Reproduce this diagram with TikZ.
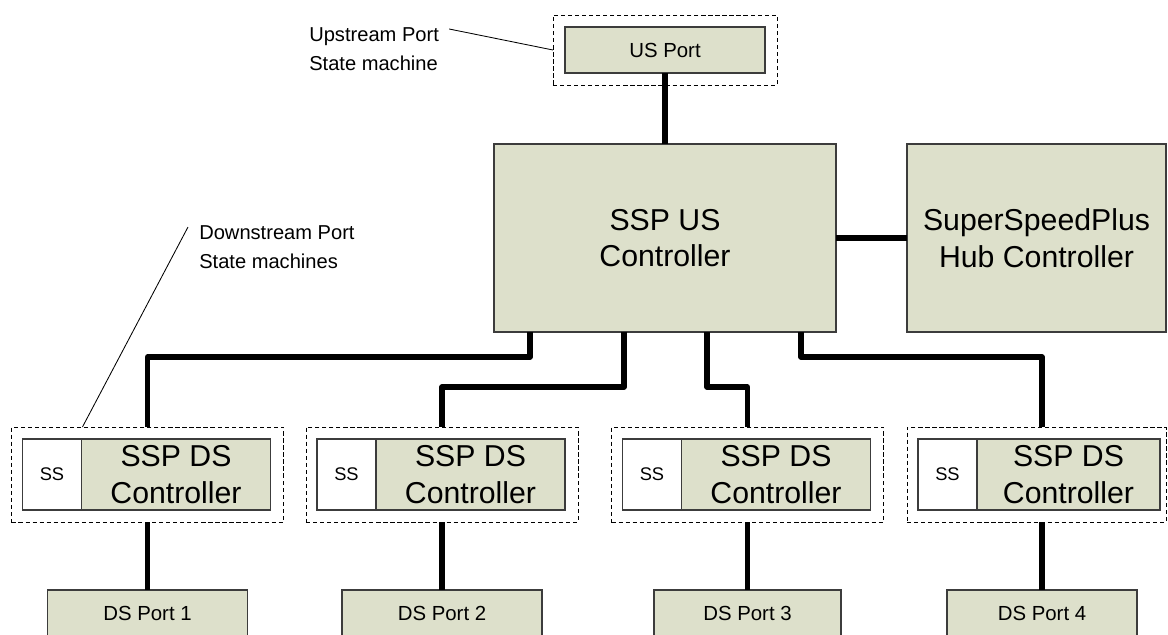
\documentclass[tikz,border=0pt]{standalone}
\usepackage{fontspec}
\setmainfont{Liberation Sans}
\usepackage{xcolor}
\usetikzlibrary{positioning, calc}

\definecolor{blockfill}{RGB}{221,224,203}
\definecolor{blockline}{RGB}{60,60,60}

\begin{document}
\begin{tikzpicture}[
 x=0.025cm, y=-0.025cm,
 block/.style={rectangle, draw=blockline, fill=blockfill, line width=0.8pt,
   inner sep=0pt, outer sep=0pt, align=center},
 port/.style={block, minimum height=1.15cm, font=\fontsize{14.5}{17}\selectfont},
 ctrl/.style={block, minimum height=4.7cm, font=\fontsize{21.5}{26}\selectfont},
 dsctrl/.style={block, minimum height=1.775cm,
   font=\fontsize{21.5}{26}\selectfont},
 ssbox/.style={rectangle, draw=blockline, fill=white, line width=0.8pt,
   inner sep=0pt, outer sep=0pt, minimum width=1.475cm, minimum height=1.775cm,
   font=\fontsize{13}{15}\selectfont},
 fsm/.style={rectangle, draw=black, dash pattern=on 3pt off 2pt, line width=0.6pt,
   minimum height=2.375cm, inner sep=0pt, outer sep=0pt},
 note/.style={align=left, inner sep=0pt, font=\fontsize{14.3}{21}\selectfont},
 bus/.style={line width=3.8pt, line join=round, draw=black},
 leader/.style={line width=0.6pt, draw=black}
]
\useasboundingbox (0,0) rectangle (1168,634);
\clip (0,0) rectangle (1168,634);

% upstream side
\node[fsm, minimum width=5.6cm, minimum height=1.75cm] (usfsm) at (665,50) {};
\node[port, minimum width=5cm] (usport) at (665,50) {US Port};
\node[ctrl, minimum width=8.55cm] (usctrl) at (665,238) {SSP US\\Controller};
\node[ctrl, minimum width=6.475cm] (hubctrl) at (1036.5,238) {SuperSpeedPlus\\Hub Controller};

% downstream ports
\foreach \i/\cx/\fw/\gw/\px/\pw in {1/147.5/6.8cm/4.725cm/147.5/5cm,
    2/442/6.8cm/4.725cm/442/5cm, 3/747.5/6.8cm/4.725cm/747.5/4.675cm,
    4/1036.5/6.475cm/4.575cm/1042/4.75cm} {
  \node[fsm, minimum width=\fw] (dsfsm\i) at (\cx,474.5) {};
  \node[ssbox, anchor=north west] (ss\i) at ($(dsfsm\i.north west)+(11,12)$) {SS};
  \node[dsctrl, minimum width=\gw, right=0pt of ss\i] (dsctrl\i) {SSP DS\\Controller};
  \node[port, minimum width=\pw] (dsport\i) at (\px,613) {DS Port \i};
  \draw[bus] (dsport\i.north |- dsfsm\i.south) -- (dsport\i.north);
}

\draw[bus] (usport) -- (usctrl);
\draw[bus] (usctrl) -- (hubctrl);
\draw[bus] ($(usctrl.south west)+(36,0)$) -- ++(0,25) -| (dsfsm1.north);
\draw[bus] ($(usctrl.south west)+(130,0)$) -- ++(0,55) -| (dsfsm2.north);
\draw[bus] ($(usctrl.south west)+(213,0)$) -- ++(0,55) -| (dsfsm3.north);
\draw[bus] ($(usctrl.south west)+(307,0)$) -- ++(0,25) -| (dsport4.north |- dsfsm4.north);

% annotations
\node[note, anchor=north west] (usnote) at (309,27) {Upstream Port\\State machine};
\draw[leader] ($(usnote.north east)+(10,2)$) -- (usfsm.west);
\node[note, anchor=north west] (dsnote) at (199,225) {Downstream Port\\State machines};
\draw[leader] ($(dsnote.north west)+(-11,2)$) -- ($(dsfsm1.north west)+(71,0)$);
\end{tikzpicture}
\end{document}
